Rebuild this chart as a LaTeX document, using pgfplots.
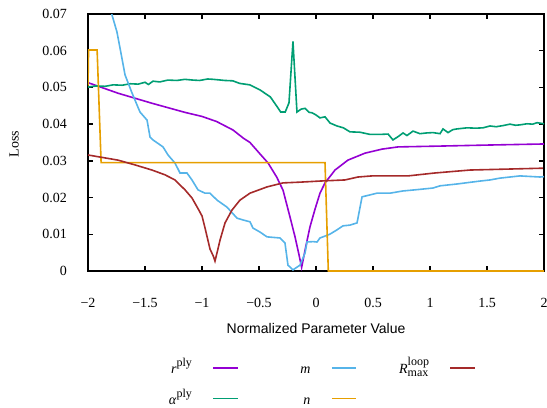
\documentclass[border=0pt]{standalone}
\usepackage{fontspec}
\setmainfont{Liberation Serif}
\setsansfont{Liberation Sans}
\usepackage{pgfplots}
\pgfplotsset{compat=1.18}
\definecolor{colr}{HTML}{9400D3}
\definecolor{cola}{HTML}{009E73}
\definecolor{colm}{HTML}{56B4E9}
\definecolor{coln}{HTML}{E69F00}
\definecolor{colR}{HTML}{A52A2A}
\newcommand{\lt}[1]{\makebox[60bp][r]{\rule[-3bp]{0pt}{18bp}#1}}
\newcommand{\fs}{\fontsize{12bp}{12bp}\selectfont}
\newcommand{\supply}{\smash{\raisebox{7bp}{\fs ply}}}
\begin{document}
\begin{tikzpicture}[font=\fontsize{14bp}{17bp}\selectfont]
\begin{axis}[
  at={(0,0)}, anchor=south west,
  scale only axis, width=456bp, height=257bp,
  xmin=-2, xmax=2, ymin=0, ymax=0.07,
  xtick={-2,-1.5,-1,-0.5,0,0.5,1,1.5,2},
  xticklabels={−2,−1.5,−1,−0.5,0,0.5,1,1.5,2},
  ytick={0,0.01,0.02,0.03,0.04,0.05,0.06,0.07},
  yticklabels={0,0.01,0.02,0.03,0.04,0.05,0.06,0.07},
  scaled y ticks=false, scaled x ticks=false,
  tick align=inside, major tick length=5bp,
  axis line style={line width=1.6bp},
  every tick/.style={black, line width=1.3bp},
  xticklabel style={anchor=center, inner sep=0pt, yshift=-31.5bp},
  yticklabel style={anchor=east, inner sep=0pt, xshift=-21bp},
  every axis plot/.append style={line width=1.6bp},
  legend image code/.code={\draw[#1, line width=1.6bp] (0bp,0bp) -- (24.5bp,0bp);},
  legend plot pos=right,
  legend columns=3,
  legend style={draw=none, fill=none, inner xsep=0pt, inner ysep=0pt,
    at={(0.0958,-0.3405)}, anchor=north west,
    nodes={inner sep=0pt, text depth=3bp}, cells={anchor=center}, row sep=12.7bp,
    /tikz/every odd column/.append style={column sep=20.6bp},
    /tikz/every even column/.append style={column sep=11.9bp}},
]
% r^ply
\addplot[colr, forget plot] coordinates {
(-2,0.0513) (-1.734,0.0484) (-1.44,0.0457) (-1.149,0.0432) (-1.0,0.0421) (-0.871,0.0407) (-0.728,0.0384) (-0.638,0.0362) (-0.579,0.0350) (-0.5,0.0322) (-0.42,0.0294) (-0.345,0.0256) (-0.289,0.0220) (-0.228,0.0147) (-0.184,0.0093) (-0.149,0.0044) (-0.126,0.0010) (-0.096,0.0057) (-0.053,0.0120) (-0.009,0.0168) (0.035,0.0212) (0.079,0.0240) (0.167,0.0275) (0.28,0.0302) (0.43,0.0321) (0.58,0.0332) (0.72,0.0338) (1.05,0.0340) (1.5,0.0343) (2,0.0346)
};
% alpha^ply
\addplot[cola, forget plot] coordinates {
(-2.0,0.0501) (-1.93,0.0504) (-1.85,0.0503) (-1.78,0.0507) (-1.70,0.0506) (-1.63,0.0510) (-1.56,0.0509) (-1.50,0.0514) (-1.47,0.0508) (-1.43,0.0517) (-1.37,0.0515) (-1.30,0.0520) (-1.22,0.0519) (-1.15,0.0522) (-1.08,0.0520) (-1.02,0.0519) (-0.95,0.0523) (-0.90,0.0522) (-0.80,0.0519) (-0.73,0.0518) (-0.67,0.0511) (-0.58,0.0507) (-0.49,0.0493) (-0.40,0.0474) (-0.34,0.0447) (-0.31,0.0433) (-0.27,0.0433) (-0.237,0.0458) (-0.202,0.0625) (-0.167,0.0433) (-0.13,0.0441) (-0.096,0.0443) (-0.06,0.0432) (-0.035,0.0431) (0.0,0.0425) (0.035,0.0417) (0.079,0.0420) (0.123,0.0403) (0.184,0.0395) (0.24,0.0390) (0.298,0.0379) (0.386,0.0378) (0.474,0.0372) (0.561,0.0372) (0.632,0.0373) (0.675,0.0357) (0.72,0.0366) (0.763,0.0376) (0.798,0.0369) (0.851,0.0381) (0.912,0.0374) (0.97,0.0376) (1.026,0.0377) (1.088,0.0374) (1.114,0.0387) (1.158,0.0377) (1.2,0.0385) (1.237,0.0387) (1.325,0.0390) (1.40,0.0389) (1.465,0.0390) (1.526,0.0395) (1.58,0.0393) (1.64,0.0396) (1.702,0.0400) (1.75,0.0397) (1.789,0.0398) (1.851,0.0401) (1.90,0.0400) (1.939,0.0404) (2.0,0.0401)
};
% m
\addplot[colm, forget plot] coordinates {
(-1.86,0.0760) (-1.789,0.0697) (-1.746,0.0651) (-1.719,0.0607) (-1.675,0.0534) (-1.614,0.0485) (-1.544,0.0433) (-1.482,0.0411) (-1.456,0.0365) (-1.43,0.0357) (-1.342,0.0338) (-1.298,0.0316) (-1.237,0.0294) (-1.193,0.0267) (-1.132,0.0267) (-1.088,0.0248) (-1.035,0.0221) (-0.974,0.0212) (-0.93,0.0212) (-0.868,0.0193) (-0.781,0.0174) (-0.693,0.0144) (-0.64,0.0139) (-0.579,0.0134) (-0.553,0.0117) (-0.491,0.0106) (-0.43,0.0093) (-0.316,0.0090) (-0.272,0.0076) (-0.246,0.0016) (-0.202,0.0003) (-0.14,0.0016) (-0.096,0.0049) (-0.079,0.0079) (-0.026,0.0080) (0.009,0.0079) (0.035,0.0090) (0.061,0.0093) (0.12,0.0100) (0.184,0.0112) (0.237,0.0123) (0.298,0.0125) (0.36,0.0131) (0.404,0.0202) (0.47,0.0207) (0.535,0.0212) (0.649,0.0212) (0.763,0.0218) (0.9,0.0222) (1.026,0.0226) (1.088,0.0232) (1.237,0.0237) (1.439,0.0245) (1.526,0.0248) (1.614,0.0253) (1.789,0.0259) (1.965,0.0256) (2.0,0.0257)
};
% n
\addplot[coln, forget plot] coordinates {
(-2,0.0505) (-1.995,0.0602) (-1.92,0.0602) (-1.885,0.0295) (0.079,0.0295) (0.108,0) (2,0)
};
% R_max^loop
\addplot[colR, forget plot] coordinates {
(-2.0,0.0316) (-1.737,0.0302) (-1.588,0.0289) (-1.439,0.0275) (-1.325,0.0262) (-1.237,0.0248) (-1.149,0.0221) (-1.088,0.0199) (-1.035,0.0170) (-1.0,0.0150) (-0.974,0.0118) (-0.93,0.0060) (-0.90,0.0040) (-0.886,0.0027) (-0.86,0.0060) (-0.842,0.0084) (-0.798,0.0131) (-0.737,0.0166) (-0.667,0.0193) (-0.579,0.0212) (-0.43,0.0229) (-0.289,0.0240) (-0.14,0.0242) (0.035,0.0245) (0.254,0.0248) (0.368,0.0256) (0.491,0.0259) (0.807,0.0259) (1.044,0.0267) (1.351,0.0275) (1.99,0.0280)
};
\addlegendimage{colr}\addlegendentry{\lt{\textit{r}\supply}}
\addlegendimage{colm}\addlegendentry{\lt{\textit{m}}}
\addlegendimage{colR}\addlegendentry{\lt{\textit{R}\makebox[0pt][l]{\raisebox{-3bp}{\fs max}}\smash{\raisebox{8bp}{\fs loop}}}}
\addlegendimage{cola}\addlegendentry{\lt{\textit{α}\supply}}
\addlegendimage{coln}\addlegendentry{\lt{\textit{n}}}
\end{axis}
\node[rotate=90] at (-74bp,127bp) {Loss};
\node at (228bp,-57bp) {\sffamily Normalized Parameter Value};
\pgfresetboundingbox
\path[use as bounding box] (-88bp,-137bp) rectangle (459bp,271bp);
\end{tikzpicture}
\end{document}
